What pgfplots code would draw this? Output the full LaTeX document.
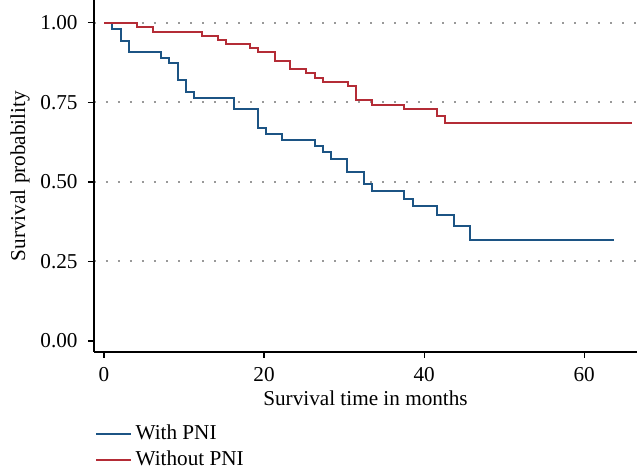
\documentclass[border=0pt]{standalone}
\usepackage{fontspec}
\setmainfont{Liberation Serif}
\usepackage{pgfplots}
\pgfplotsset{compat=1.18}
\definecolor{pniblue}{RGB}{28,84,132}
\definecolor{pnired}{RGB}{180,44,54}
\begin{document}
\fontsize{10.6}{12.7}\selectfont
\begin{tikzpicture}
\begin{axis}[
    scale only axis,
    width=271.5pt, height=176pt,
    xmin=-1.25, xmax=66.6,
    ymin=-0.0346, ymax=1.072,
    axis x line*=bottom,
    axis y line*=left,
    axis line style={line width=0.75pt},
    tick style={line width=0.6pt, black},
    tick align=outside,
    major tick length=3pt,
    xtick={0,20,40,60},
    ytick={0.25,0.5,0.75,1},
    extra y ticks={0},
    extra y tick style={grid=none},
    yticklabel style={xshift=-1.5pt, /pgf/number format/.cd, fixed, fixed zerofill, precision=2},
    xticklabel style={yshift=-1pt},
    extra y tick labels={0.00},
    /pgf/number format/assume math mode=true,
    ymajorgrids,
    grid style={gray!80, line width=1pt, dash pattern=on 1pt off 5pt},
    xlabel={Survival time in months},
    ylabel={Survival probability},
    xlabel style={at={(axis description cs:0.5,-0.131)}, anchor=center},
    ylabel style={at={(axis description cs:-0.136,0.5)}, anchor=center, inner sep=0pt},
    legend style={draw=none, fill=none, inner sep=0pt, at={(0.002,-0.345)}, anchor=south west,
        legend cell align=left, row sep=0pt, font=\fontsize{10.6}{12.7}\selectfont},
    clip=false,
]
\addplot[const plot, pniblue, line width=1pt] coordinates {
(0,1.0)(1.04,0.981)(2.1,0.944)(3.1,0.909)(7.1,0.891)(8.1,0.873)(9.2,0.819)
(10.2,0.783)(11.2,0.764)(16.3,0.728)(19.3,0.671)(20.3,0.652)(22.3,0.632)
(26.4,0.614)(27.4,0.593)(28.4,0.573)(30.4,0.532)(32.5,0.494)(33.5,0.472)
(37.5,0.4475)(38.6,0.4245)(41.6,0.396)(43.7,0.361)(45.7,0.317)(63.75,0.317)
};
\addlegendentry{With PNI}
\addplot[const plot, pnired, line width=1pt] coordinates {
(0,1.0)(4.1,0.986)(6.1,0.972)(12.2,0.96)(14.2,0.946)(15.25,0.935)(18.3,0.921)
(19.3,0.907)(21.4,0.881)(23.3,0.855)(25.3,0.843)(26.4,0.828)(27.4,0.815)
(30.5,0.801)(31.5,0.759)(33.5,0.743)(37.5,0.729)(41.6,0.708)(42.6,0.685)
(66,0.685)
};
\addlegendentry{Without PNI}
\end{axis}
\pgfresetboundingbox
\path[use as bounding box] ([shift={(-47pt,-61pt)}]current axis.south west) rectangle (current axis.north east);
\end{tikzpicture}
\end{document}
